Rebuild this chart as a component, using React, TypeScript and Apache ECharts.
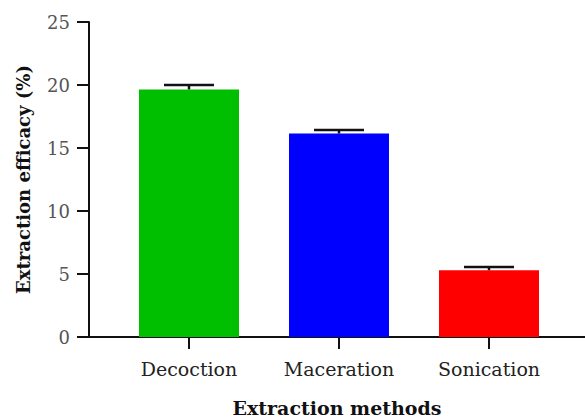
import React, { useEffect, useRef } from "react";
import * as echarts from "echarts";

// Extraction efficacy (%) by method, mean and standard deviation
const methods = ["Decoction", "Maceration", "Sonication"];
const efficacyMean = [19.65, 16.15, 5.3];
const efficacySD = [0.35, 0.27, 0.25];
const barColors = ["#00bf00", "#0000ff", "#ff0000"];
const yTicks = { min: 0, max: 25, interval: 5 };

const SERIF = "'DejaVu Serif', 'Liberation Serif', serif";

export default function App() {
  const ref = useRef<HTMLDivElement>(null);

  useEffect(() => {
    if (!ref.current) return;
    const chart = echarts.init(ref.current, null, { renderer: "svg" });

    const errorData = methods.map((_, i) => [i, efficacyMean[i], efficacySD[i]]);

    chart.setOption({
      animation: false,
      backgroundColor: "#ffffff",
      grid: [
        // frame grid: carries the y axis and the long baseline
        { left: 89, right: 0, top: 22, bottom: 82, outerBoundsMode: "none" },
        // plotting grid: category bands for the bars
        { left: 114, width: 450, top: 22, bottom: 82, outerBoundsMode: "none" },
      ],
      xAxis: [
        {
          type: "value",
          gridIndex: 0,
          min: 0,
          max: 1,
          axisLine: { show: true, lineStyle: { color: "#111", width: 2 } },
          axisTick: { show: false },
          axisLabel: { show: false },
          splitLine: { show: false },
          name: "Extraction methods",
          nameLocation: "middle",
          nameGap: 61,
          nameTextStyle: {
            fontFamily: SERIF,
            fontWeight: "bold",
            fontSize: 19,
            color: "#111",
          },
        },
        {
          type: "category",
          gridIndex: 1,
          data: methods,
          axisLine: { show: false },
          axisTick: {
            show: true,
            alignWithLabel: true,
            length: 12,
            lineStyle: { color: "#111", width: 2 },
          },
          axisLabel: {
            margin: 22,
            fontFamily: SERIF,
            fontSize: 19,
            color: "#222",
          },
        },
      ],
      yAxis: [
        {
          type: "value",
          gridIndex: 0,
          ...yTicks,
          axisLine: { show: true, lineStyle: { color: "#111", width: 2 } },
          axisTick: {
            show: true,
            length: 12,
            lineStyle: { color: "#111", width: 2 },
          },
          axisLabel: {
            margin: 19,
            fontFamily: SERIF,
            fontSize: 18,
            color: "#555",
          },
          splitLine: { show: false },
          name: "Extraction efficacy (%)",
          nameLocation: "middle",
          nameGap: 57,
          nameTextStyle: {
            fontFamily: SERIF,
            fontWeight: "bold",
            fontSize: 18,
            color: "#111",
          },
        },
        {
          type: "value",
          gridIndex: 1,
          ...yTicks,
          show: false,
        },
      ],
      series: [
        {
          type: "bar",
          xAxisIndex: 1,
          yAxisIndex: 1,
          barWidth: 100,
          data: efficacyMean.map((v, i) => ({
            value: v,
            itemStyle: { color: barColors[i] },
          })),
        },
        {
          type: "custom",
          xAxisIndex: 1,
          yAxisIndex: 1,
          data: errorData,
          z: 5,
          renderItem: (params: any, api: any) => {
            const idx = api.value(0);
            const mean = api.value(1);
            const sd = api.value(2);
            const base = api.coord([idx, mean]);
            const top = api.coord([idx, mean + sd]);
            const half = 25;
            const style = { stroke: "#111", lineWidth: 2.5 };
            return {
              type: "group",
              children: [
                {
                  type: "line",
                  shape: { x1: base[0], y1: base[1], x2: top[0], y2: top[1] },
                  style,
                },
                {
                  type: "line",
                  shape: { x1: top[0] - half, y1: top[1], x2: top[0] + half, y2: top[1] },
                  style,
                },
              ],
            };
          },
        },
      ],
    });

    return () => chart.dispose();
  }, []);

  return (
    <div
      ref={ref}
      style={{ position: "absolute", left: 0, top: 0, width: 585, height: 419 }}
    />
  );
}
